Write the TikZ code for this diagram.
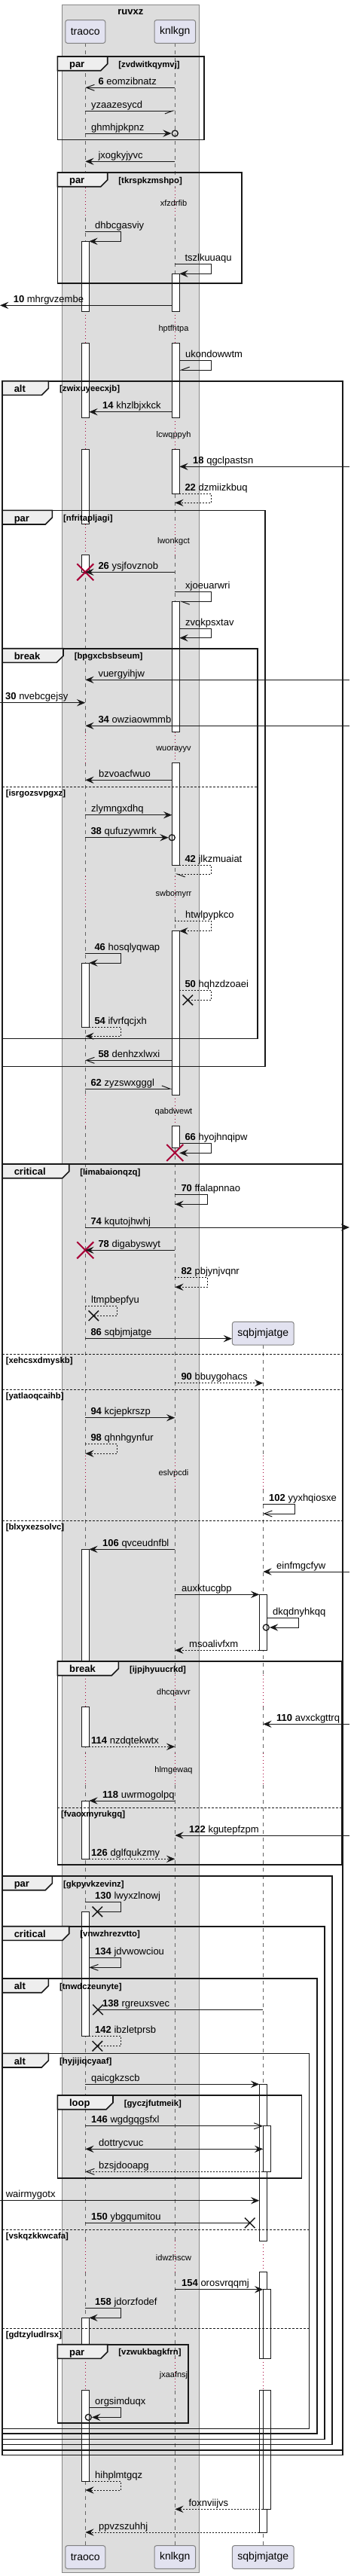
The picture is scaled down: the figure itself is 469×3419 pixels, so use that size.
\documentclass[tikz,border=0pt]{standalone}
\usepackage{fontspec}
\setmainfont{Liberation Sans}
\usepackage{tikz}
\usetikzlibrary{arrows.meta, shapes.misc}
\definecolor{boxgray}{RGB}{221,221,221}
\definecolor{boxline}{RGB}{136,136,136}
\definecolor{partfill}{RGB}{226,226,240}
\definecolor{partline}{RGB}{130,130,130}
\definecolor{lifegray}{RGB}{100,100,100}
\definecolor{delayred}{RGB}{168,0,54}
\definecolor{tabgray}{RGB}{238,238,238}
\definecolor{ink}{RGB}{24,24,24}
\tikzset{
  part/.style={rectangle, rounded corners=2pt, draw=partline, fill=partfill,
    line width=0.75pt, minimum height=23pt, inner xsep=5.25pt,
    font=\fontsize{10.5pt}{12pt}\selectfont},
  life/.style={draw=lifegray, line width=0.75pt, dash pattern=on 3.75pt off 3.75pt},
  delayline/.style={draw=delayred, line width=0.75pt, dash pattern=on 0.75pt off 2.6pt},
  actbar/.style={draw=ink, fill=white, line width=0.75pt},
  frm/.style={draw=ink, line width=1.2pt},
  ftab/.style={frm, fill=tabgray},
  elseline/.style={draw=ink, line width=0.75pt, dash pattern=on 2.25pt off 1.5pt},
  msg/.style={draw=ink, line width=0.75pt},
  rmsg/.style={msg, dash pattern=on 1.5pt off 1.5pt},
  filled/.style={-{Stealth[length=8.5pt, width=7pt, inset=3.2pt]}},
  twoway/.style={{Stealth[length=8.5pt, width=7pt, inset=3.2pt]}-{Stealth[length=8.5pt, width=7pt, inset=3.2pt]}},
  openhd/.style={-{Straight Barb[length=8pt, width=6pt]}},
  halfl/.style={-{Straight Barb[length=8pt, width=6pt, left]}},
  halfr/.style={-{Straight Barb[length=8pt, width=6pt, right]}},
  lbl/.style={anchor=base west, inner sep=0pt, font=\fontsize{9.75pt}{11pt}\selectfont},
  dlbl/.style={anchor=base, inner sep=0pt, font=\fontsize{8.25pt}{10pt}\selectfont},
  fname/.style={anchor=base west, inner sep=0pt, font=\bfseries\fontsize{9.75pt}{11pt}\selectfont},
  fcond/.style={anchor=base west, inner sep=0pt, font=\bfseries\fontsize{8.5pt}{10pt}\selectfont},
  lost/.style={cross out, draw=ink, line width=1.1pt, minimum size=9pt, inner sep=0pt},
  destroy/.style={cross out, draw=delayred, line width=1.5pt, minimum size=15pt, inner sep=0pt},
  endcirc/.style={circle, draw=ink, line width=1pt, minimum size=6pt, inner sep=0pt}
}
% group frame: name, x0, y0, x1, y1, tab width, kind, condition
\newcommand{\seqframe}[8]{%
  \draw[frm] (#2,#3) rectangle (#4,#5);
  \draw[ftab] (#2,#3) -- (#2+#6,#3) -- (#2+#6,#3+9.7) -- (#2+#6-9,#3+18.7) -- (#2,#3+18.7) -- cycle;
  \node[fname] (#1k) at (#2+15.5,#3+14.7) {#7};
  \node[fcond] (#1c) at (#2+#6+14.5,#3+14) {#8};
}
% else separator: name, x0, x1, y, condition
\newcommand{\seqelse}[5]{%
  \draw[elseline] (#2,#4) -- (#3,#4);
  \node[fcond] (#1) at (#2+4.5,#4+12) {#5};
}

\begin{document}
\begin{tikzpicture}[x=0.75pt, y=-0.75pt]
  \useasboundingbox (0,0) rectangle (469,3419);

  % Box
  \draw[fill=boxgray, draw=boxline, line width=0.75pt] (82.3,6) rectangle (264.3,3414);
  \node[anchor=base, font=\bfseries\fontsize{9.75pt}{11pt}\selectfont] (boxtitle) at (173.3,19) {ruvxz};

  % Lifeline positions
  \coordinate (T) at (113.3,0);
  \coordinate (Tl) at (108.3,0);
  \coordinate (Tr) at (118.3,0);
  \coordinate (K) at (232.3,0);
  \coordinate (Kl) at (228.3,0);
  \coordinate (Kr) at (238.3,0);
  \coordinate (S) at (349.3,0);
  \coordinate (Sl) at (344.3,0);
  \coordinate (Sr) at (354.3,0);
  \coordinate (Sn) at (359.3,0);
  \coordinate (Lft) at (0,0);
  \coordinate (Rgt) at (464,0);

  % Lifelines
  \foreach \a/\b in {57.3/249, 289/413.3, 455/554.3, 596/695.7, 736.7/971.7, 1012.3/1163,
      1207/1453.3, 1494.3/1931.7, 1976.7/2223.3, 2265/2327, 2369/2974.3, 3015.7/3130, 3172.7/3378.7}
    {\draw[life] (T |- 0,\a) -- (T |- 0,\b);
     \draw[life] (K |- 0,\a) -- (K |- 0,\b);}
  \foreach \a/\b in {1785.3/1931.7, 1976.7/2223.3, 2265/2327, 2369/2974.3, 3015.7/3130, 3172.7/3378.7}
    \draw[life] (S |- 0,\a) -- (S |- 0,\b);

  % Delays
  \foreach \a/\b in {249/289, 413.3/455, 554.3/596, 695.7/736.7, 971.7/1012.3, 1163/1207, 1453.3/1494.3}
    {\draw[delayline] (T |- 0,\a) -- (T |- 0,\b);
     \draw[delayline] (K |- 0,\a) -- (K |- 0,\b);}
  \foreach \a/\b in {1931.7/1976.7, 2223.3/2265, 2327/2369, 2974.3/3015.7, 3130/3172.7}
    {\draw[delayline] (T |- 0,\a) -- (T |- 0,\b);
     \draw[delayline] (K |- 0,\a) -- (K |- 0,\b);
     \draw[delayline] (S |- 0,\a) -- (S |- 0,\b);}
  \node[dlbl] (d1) at (230.5,273) {xfzdrfib};
  \node[dlbl] (d2) at (230.5,439) {hptfhtpa};
  \node[dlbl] (d3) at (230.5,580) {lcwqppyh};
  \node[dlbl] (d4) at (230.5,721) {lwonkgct};
  \node[dlbl] (d5) at (230.5,996.3) {wuorayyv};
  \node[dlbl] (d6) at (230.5,1189) {swbomyrr};
  \node[dlbl] (d7) at (230.5,1478) {qabdwewt};
  \node[dlbl] (d8) at (230.5,1958.3) {eslvpcdi};
  \node[dlbl] (d9) at (230.5,2249) {dhcqavvr};
  \node[dlbl] (d10) at (230.5,2352.3) {hlmgewaq};
  \node[dlbl] (d11) at (230.5,3000) {idwzhscw};
  \node[dlbl] (d12) at (230.5,3155.7) {jxaafnsj};

  % Activations
  \foreach \a/\b in {320.3/413.3, 455/554.3, 596/695.7, 736.7/759.3, 1278/1363.3, 2056.3/2223.3,
      2265/2318.3, 2390/2467.3, 2537.3/2702.7, 3076.3/3130, 3172.7/3293.3}
    \draw[actbar] (Tl |- 0,\a) rectangle (Tr |- 0,\b);
  \foreach \a/\b in {363.3/413.3, 455/554.3, 596/655, 798.3/971.7, 1012.3/1148.3, 1235.7/1453.3, 1494.3/1523.3}
    \draw[actbar] (Kl |- 0,\a) rectangle (Kr |- 0,\b);
  \foreach \a/\b in {2116.3/2190.3, 2766.3/2974.3, 3015.7/3130, 3172.7/3361}
    \draw[actbar] (Sl |- 0,\a) rectangle (Sr |- 0,\b);
  \foreach \a/\b in {2821.7/2882.3, 3038.7/3130, 3172.7/3330.3}
    \draw[actbar] (S |- 0,\a) rectangle (Sn |- 0,\b);

  % Groups
  \seqframe{fa}{76.3}{75}{270.7}{185.3}{66.4}{par}{[zvdwitkqymvj]}
  \seqframe{fb}{76.3}{229}{320.7}{376}{66.4}{par}{[tkrspkzmshpo]}
  \seqframe{fc}{3}{505.7}{454.7}{3258.3}{61.3}{alt}{[zwixuyeecxjb]}
  \seqframe{fd}{3}{677.3}{351.7}{1415.3}{66.3}{par}{[nfritapljagi]}
  \seqframe{fe}{3}{860.7}{341.7}{1378.3}{81}{break}{[bpgxcbsbseum]}
  \seqelse{ea}{3}{341.7}{1044.3}{[isrgozsvpgxz]}
  \seqframe{ff}{3}{1545}{454.7}{3251.7}{88.7}{critical}{[limabaionqzq]}
  \seqelse{eb}{3}{454.7}{1797.3}{[xehcsxdmyskb]}
  \seqelse{ec}{3}{454.7}{1844.3}{[yatlaoqcaihb]}
  \seqelse{ed}{3}{454.7}{2018.3}{[blxyxezsolvc]}
  \seqframe{fg}{76.3}{2205}{454}{2475}{81}{break}{[ijpjhyuucrkd]}
  \seqelse{ee}{76.3}{454}{2399}{[fvaoxmyrukgq]}
  \seqframe{fh}{3}{2490}{440.7}{3244.3}{66.3}{par}{[gkpyvkzevinz]}
  \seqframe{fi}{3}{2556.7}{430.7}{3237.3}{88.7}{critical}{[vnwzhrezvtto]}
  \seqframe{fj}{3}{2626}{420.7}{3230}{61.3}{alt}{[tnwdczeunyte]}
  \seqframe{fk}{3}{2725.3}{410.3}{3223.3}{61.3}{alt}{[hyjijiqcyaaf]}
  \seqelse{ef}{3}{410.3}{2959}{[vskqzkkwcafa]}
  \seqelse{eg}{3}{410.3}{3090}{[gdtzyludlrsx]}
  \seqframe{fl}{76.3}{2781}{400.3}{2890.7}{73.7}{loop}{[gyczjfutmeik]}
  \seqframe{fm}{76.3}{3111.7}{249.7}{3216}{66.4}{par}{[vzwukbagkfrn]}

  % Participants
  \node[part] (traoco) at (113.3,42) {traoco};
  \node[part] (knlkgn) at (232.3,42) {knlkgn};
  \node[part] (sqbj) at (349.3,1769.8) {sqbjmjatge};
  \node[part] (traocoB) at (113.3,3394) {traoco};
  \node[part] (knlkgnB) at (232.3,3394) {knlkgn};
  \node[part] (sqbjB) at (349.3,3394) {sqbjmjatge};

  % Messages
  \draw[msg,openhd] (K |- 0,116.3) -- (T |- 0,116.3) node[lbl] (l1) at (130,112.3) {\textbf{6} eomzibnatz};
  \draw[msg,halfr] (T |- 0,147) -- (K |- 0,147) node[lbl] (l2) at (120.7,143) {yzaazesycd};
  \node[endcirc] (c1) at (K |- 0,177) {};
  \draw[msg,filled] (T |- 0,177) -- (c1.west) node[lbl] (l3) at (120.7,173) {ghmhjpkpnz};
  \draw[msg,filled] (K |- 0,214.3) -- (T |- 0,214.3) node[lbl] (l4) at (130,210.3) {jxogkyjyvc};
  \draw[msg,filled] (T |- 0,307.7) -- (160.7,307.7) |- (Tr |- 0,320.3) node[lbl] (l5) at (125.7,303.7) {dhbcgasviy};
  \draw[msg,filled] (K |- 0,350.7) -- (280.7,350.7) |- (Kr |- 0,363.3) node[lbl] (l6) at (245,346.7) {tszlkuuaqu};
  \draw[msg,filled] (Kl |- 0,405.3) -- (Lft |- 0,405.3) node[lbl] (l7) at (17.3,401.3) {\textbf{10} mhrgvzembe};
  \draw[msg,halfr] (Kr |- 0,478.3) -- (280.7,478.3) |- (Kr |- 0,491) node[lbl] (l8) at (245.7,474.3) {ukondowwtm};
  \draw[msg,filled] (Kl |- 0,546.7) -- (Tr |- 0,546.7) node[lbl] (l9) at (135.7,542.7) {\textbf{14} khzlbjxkck};
  \draw[msg,filled] (Rgt |- 0,619.3) -- (Kr |- 0,619.3) node[lbl] (l10) at (255.7,615.3) {\textbf{18} qgclpastsn};
  \draw[rmsg,filled] (Kr |- 0,655) -- (280.7,655) |- (K |- 0,667.3) node[lbl] (l11) at (245,651) {\textbf{22} dzmiizkbuq};
  \node[destroy] (x1) at (T |- 0,759.3) {};
  \draw[msg,filled] (K |- 0,759.3) -- (x1.center) node[lbl] (l12) at (130,755.3) {\textbf{26} ysjfovznob};
  \draw[msg,halfl] (K |- 0,785.7) -- (280.7,785.7) |- (Kr |- 0,798.3) node[lbl] (l13) at (245.7,781.7) {xjoeuarwri};
  \draw[msg,filled] (Kr |- 0,834) -- (280.7,834) |- (Kr |- 0,846.7) node[lbl] (l14) at (245.7,830) {zvqkpsxtav};
  \draw[msg,filled] (Rgt |- 0,902.3) -- (T |- 0,902.3) node[lbl] (l15) at (130,898.3) {vuergyihjw};
  \draw[msg,filled] (Lft |- 0,932.7) -- (T |- 0,932.7) node[lbl] (l16) at (6.7,928.7) {\textbf{30} nvebcgejsy};
  \draw[msg,filled] (Rgt |- 0,963.3) -- (T |- 0,963.3) node[lbl] (l17) at (130,959.3) {\textbf{34} owziaowmmb};
  \draw[msg,filled] (Kl |- 0,1035.3) -- (T |- 0,1035.3) node[lbl] (l18) at (130.7,1031.3) {bzvoacfwuo};
  \draw[msg,filled] (T |- 0,1081.7) -- (Kl |- 0,1081.7) node[lbl] (l19) at (120.7,1077.7) {zlymngxdhq};
  \node[endcirc] (c2) at (Kl |- 0,1111.7) {};
  \draw[msg,filled] (T |- 0,1111.7) -- (c2.west) node[lbl] (l20) at (120,1107.7) {\textbf{38} qufuzywmrk};
  \draw[rmsg,halfl] (Kr |- 0,1148.3) -- (280.7,1148.3) |- (K |- 0,1160) node[lbl] (l21) at (245,1144.3) {\textbf{42} jlkzmuaiat};
  \draw[rmsg,filled] (K |- 0,1222.3) -- (280.7,1222.3) |- (Kr |- 0,1235.7) node[lbl] (l22) at (245.7,1218.3) {htwlpypkco};
  \draw[msg,filled] (T |- 0,1265.3) -- (160.7,1265.3) |- (Tr |- 0,1278) node[lbl] (l23) at (125,1261.3) {\textbf{46} hosqlyqwap};
  \node[lost] (x2) at (249.3,1327.3) {};
  \draw[rmsg] (Kr |- 0,1314) -- (280.7,1314) |- (x2.center) node[lbl] (l24) at (245,1310) {\textbf{50} hqhzdzoaei};
  \draw[rmsg,filled] (Tr |- 0,1363.3) -- (160.7,1363.3) |- (T |- 0,1375.3) node[lbl] (l25) at (125,1359.3) {\textbf{54} ifvrfqcjxh};
  \draw[msg,openhd] (Kl |- 0,1407.3) -- (T |- 0,1407.3) node[lbl] (l26) at (130,1403.3) {\textbf{58} denhzxlwxi};
  \draw[msg,halfl] (T |- 0,1445) -- (Kl |- 0,1445) node[lbl] (l27) at (120,1441) {\textbf{62} zyzswxgggl};
  \draw[msg,filled] (Kr |- 0,1517.7) -- (280.7,1517.7) |- (Kr |- 0,1530.3) node[lbl] (l28) at (245,1513.7) {\textbf{66} hyojhnqipw};
  \node[destroy] (x3) at (K |- 0,1530) {};
  \draw[msg,filled] (K |- 0,1585.7) -- (275.7,1585.7) |- (K |- 0,1598.3) node[lbl] (l29) at (240,1581.7) {\textbf{70} ffalapnnao};
  \draw[msg,filled] (T |- 0,1629) -- (Rgt |- 0,1629) node[lbl] (l30) at (120,1625) {\textbf{74} kqutojhwhj};
  \node[destroy] (x4) at (T |- 0,1659.3) {};
  \draw[msg,filled] (K |- 0,1659.3) -- (x4.center) node[lbl] (l31) at (130,1655.3) {\textbf{78} digabyswyt};
  \draw[rmsg,filled] (K |- 0,1695.3) -- (275.7,1695.3) |- (K |- 0,1708.3) node[lbl] (l32) at (240,1691.3) {\textbf{82} pbjynjvqnr};
  \node[lost] (x5) at (124.3,1746.3) {};
  \draw[rmsg] (T |- 0,1733.3) -- (155.7,1733.3) |- (x5.center) node[lbl] (l33) at (120.7,1729.3) {ltmpbepfyu};
  \draw[msg,filled] (T |- 0,1776.7) -- (sqbj.west |- 0,1776.7) node[lbl] (l34) at (120,1772.7) {\textbf{86} sqbjmjatge};
  \draw[rmsg,filled] (K |- 0,1835.7) -- (S |- 0,1835.7) node[lbl] (l35) at (240,1831.7) {\textbf{90} bbuygohacs};
  \draw[msg,filled] (T |- 0,1881.7) -- (K |- 0,1881.7) node[lbl] (l36) at (120,1877.7) {\textbf{94} kcjepkrszp};
  \draw[rmsg,filled] (T |- 0,1916.7) -- (155.7,1916.7) |- (T |- 0,1929.3) node[lbl] (l37) at (120,1912.7) {\textbf{98} qhnhgynfur};
  \draw[msg,openhd] (S |- 0,1996) -- (391.3,1996) |- (S |- 0,2009) node[lbl] (l38) at (356.7,1992) {\textbf{102} yyxhqiosxe};
  \draw[msg,filled] (K |- 0,2056.3) -- (Tr |- 0,2056.3) node[lbl] (l39) at (135.7,2052.3) {\textbf{106} qvceudnfbl};
  \draw[msg,filled] (Rgt |- 0,2086) -- (S |- 0,2086) node[lbl] (l40) at (366.7,2082) {einfmgcfyw};
  \draw[msg,filled] (K |- 0,2116.3) -- (Sl |- 0,2116.3) node[lbl] (l41) at (240.7,2112.3) {auxktucgbp};
  \node[endcirc] (c3) at (353.3,2160) {};
  \draw[msg,filled] (Sr |- 0,2147.7) -- (396.3,2147.7) |- (c3.east) node[lbl] (l42) at (361.7,2143.7) {dkqdnyhkqq};
  \draw[rmsg,filled] (Sl |- 0,2190.3) -- (K |- 0,2190.3) node[lbl] (l43) at (250.7,2186.3) {msoalivfxm};
  \draw[msg,filled] (Rgt |- 0,2288.3) -- (S |- 0,2288.3) node[lbl] (l44) at (366.7,2284.3) {\textbf{110} avxckgttrq};
  \draw[rmsg,filled] (Tr |- 0,2318.3) -- (K |- 0,2318.3) node[lbl] (l45) at (120.7,2314.3) {\textbf{114} nzdqtekwtx};
  \draw[msg,filled] (K |- 0,2390) -- (Tr |- 0,2390) node[lbl] (l46) at (135.7,2386) {\textbf{118} uwrmogolpq};
  \draw[msg,filled] (Rgt |- 0,2436) -- (K |- 0,2436) node[lbl] (l47) at (250.7,2432) {\textbf{122} kgutepfzpm};
  \draw[rmsg,filled] (Tr |- 0,2467.3) -- (K |- 0,2467.3) node[lbl] (l48) at (120.7,2463.3) {\textbf{126} dglfqukzmy};
  \node[lost] (x6) at (129.3,2537.3) {};
  \draw[msg] (T |- 0,2524.3) -- (160.7,2524.3) |- (x6.center) node[lbl] (l49) at (125.7,2520.3) {\textbf{130} lwyxzlnowj};
  \draw[msg,openhd] (Tr |- 0,2598.3) -- (160.7,2598.3) |- (Tr |- 0,2611.3) node[lbl] (l50) at (125.7,2594.3) {\textbf{134} jdvwowciou};
  \node[lost] (x7) at (130,2667.3) {};
  \draw[msg] (S |- 0,2667.3) -- (x7.center) node[lbl] (l51) at (135.7,2663.3) {\textbf{138} rgreuxsvec};
  \node[lost] (x8) at (129.3,2715.7) {};
  \draw[rmsg] (Tr |- 0,2702.7) -- (160.7,2702.7) |- (x8.center) node[lbl] (l52) at (125.7,2698.7) {\textbf{142} ibzletprsb};
  \draw[msg,filled] (T |- 0,2766.3) -- (Sl |- 0,2766.3) node[lbl] (l53) at (120.7,2762.3) {qaicgkzscb};
  \draw[msg,openhd] (T |- 0,2821.7) -- (S |- 0,2821.7) node[lbl] (l54) at (120.7,2817.7) {\textbf{146} wgdgqgsfxl};
  \draw[msg,twoway] (T |- 0,2852.3) -- (S |- 0,2852.3) node[lbl] (l55) at (130.7,2848.3) {dottrycvuc};
  \draw[rmsg,openhd] (S |- 0,2882.3) -- (T |- 0,2882.3) node[lbl] (l56) at (130.7,2878.3) {bzsjdooapg};
  \draw[msg,filled] (Lft |- 0,2920.7) -- (Sl |- 0,2920.7) node[lbl] (l57) at (7.3,2916.7) {wairmygotx};
  \node[lost] (x9) at (331.7,2950.3) {};
  \draw[msg] (T |- 0,2950.3) -- (x9.center) node[lbl] (l58) at (120.7,2946.3) {\textbf{150} ybgqumitou};
  \draw[msg,filled] (K |- 0,3038.7) -- (S |- 0,3038.7) node[lbl] (l59) at (240.7,3034.7) {\textbf{154} orosvrqqmj};
  \draw[msg,filled] (T |- 0,3063.7) -- (160.7,3063.7) |- (Tr |- 0,3076.3) node[lbl] (l60) at (125.7,3059.7) {\textbf{158} jdorzfodef};
  \node[endcirc] (c4) at (117.3,3208.3) {};
  \draw[msg,filled] (Tr |- 0,3195.7) -- (160.7,3195.7) |- (c4.east) node[lbl] (l61) at (125.7,3191.7) {orgsimduqx};
  \draw[rmsg,filled] (Tr |- 0,3293.3) -- (160.7,3293.3) |- (T |- 0,3305) node[lbl] (l62) at (125.7,3289.3) {hihplmtgqz};
  \draw[rmsg,filled] (S |- 0,3330.3) -- (K |- 0,3330.3) node[lbl] (l63) at (250,3326.3) {foxnviijvs};
  \draw[rmsg,filled] (Sl |- 0,3361) -- (T |- 0,3361) node[lbl] (l64) at (130.7,3357) {ppvzszuhhj};
\end{tikzpicture}
\end{document}
